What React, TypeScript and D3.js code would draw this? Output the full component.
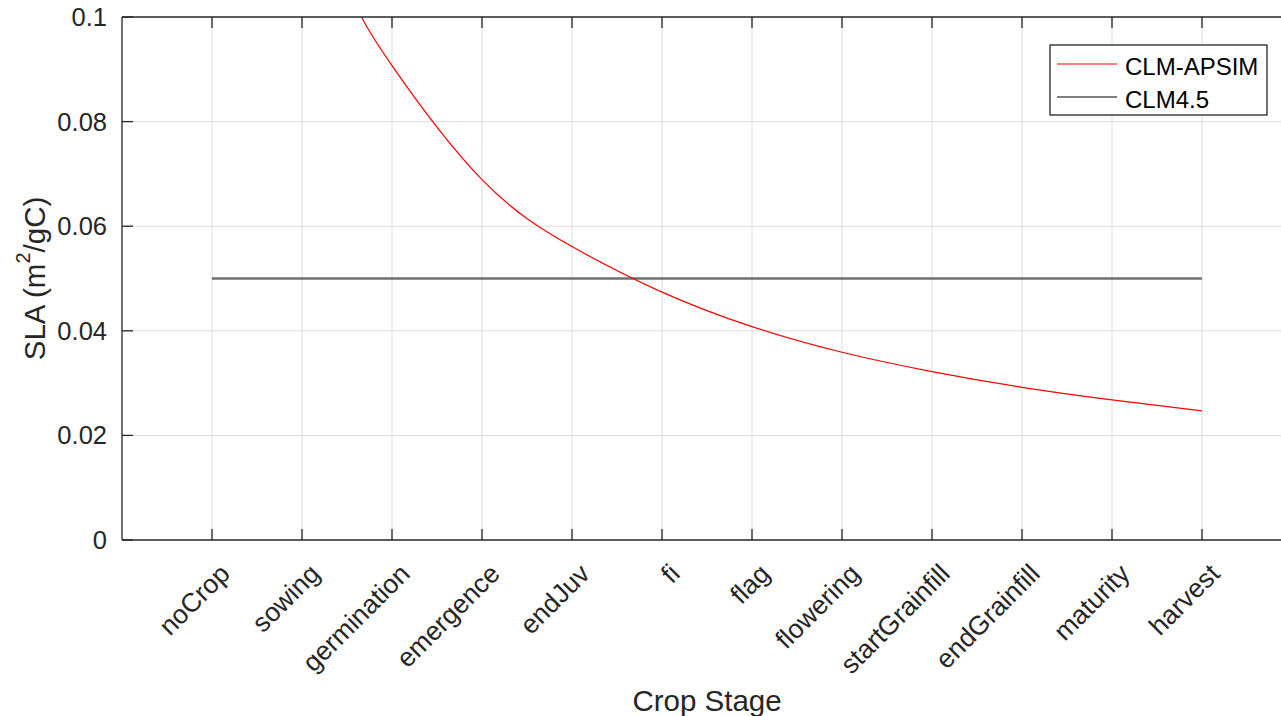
import React, { useEffect, useRef } from "react";
import * as d3 from "d3";

const stages = [
  "noCrop", "sowing", "germination", "emergence", "endJuv", "fi",
  "flag", "flowering", "startGrainfill", "endGrainfill", "maturity", "harvest",
];
// CLM-APSIM SLA (x = stage position, 0 = noCrop)
const apsimStagePos = [1, 1.5, 2, 3, 4, 5, 6, 7, 8, 9, 10, 11];
const apsimValues = [0.129, 0.106, 0.0907, 0.0689, 0.0561, 0.0474, 0.0408, 0.0359, 0.0322, 0.0292, 0.0268, 0.0247];
// CLM4.5 constant SLA
const clmStagePos = [0, 11];
const clmValues = [0.05, 0.05];
const yTicks = [0, 0.02, 0.04, 0.06, 0.08, 0.1];
const yTickLabels = ["0", "0.02", "0.04", "0.06", "0.08", "0.1"];
const legendLabels = ["CLM-APSIM", "CLM4.5"];

const W = 1281;
const H = 716;
const FONT = "'Liberation Sans', Arial, Helvetica, sans-serif";
const AX = "#262626";

export default function App() {
  const ref = useRef<SVGSVGElement | null>(null);

  useEffect(() => {
    document.body.style.margin = "0";
    const svg = d3.select(ref.current);
    svg.selectAll("*").remove();

    const left = 122, top = 17, bottom = 540;
    const x = d3.scaleLinear().domain([-1, 12]).range([left, left + 13 * 90]);
    const y = d3.scaleLinear().domain([0, 0.1]).range([bottom, top]);
    const right = x.range()[1];

    svg.append("rect").attr("width", W).attr("height", H).attr("fill", "#fff");

    svg.append("defs").append("clipPath").attr("id", "plotclip")
      .append("rect").attr("x", left).attr("y", top).attr("width", right - left).attr("height", bottom - top);

    // grid
    const g = svg.append("g");
    stages.forEach((_, i) => {
      g.append("line").attr("x1", x(i)).attr("x2", x(i)).attr("y1", top).attr("y2", bottom)
        .attr("stroke", "#dcdcdc").attr("stroke-width", 1);
    });
    yTicks.forEach((t) => {
      if (t === 0 || t === 0.1) return;
      g.append("line").attr("x1", left).attr("x2", right).attr("y1", y(t)).attr("y2", y(t))
        .attr("stroke", "#dcdcdc").attr("stroke-width", 1);
    });

    // lines
    const clmData = clmStagePos.map((s, i) => [s, clmValues[i]] as [number, number]);
    const apsimData = apsimStagePos.map((s, i) => [s, apsimValues[i]] as [number, number]);
    const lineGen = d3.line<[number, number]>().x((d) => x(d[0])).y((d) => y(d[1])).curve(d3.curveNatural);

    const plot = svg.append("g").attr("clip-path", "url(#plotclip)");
    plot.append("path").datum(clmData).attr("d", lineGen).attr("fill", "none")
      .attr("stroke", "#707070").attr("stroke-width", 2.4);
    plot.append("path").datum(apsimData).attr("d", lineGen).attr("fill", "none")
      .attr("stroke", "#ff0000").attr("stroke-width", 1.2);

    // axes box
    const axg = svg.append("g").attr("stroke", AX).attr("stroke-width", 1.3).attr("fill", "none");
    axg.append("line").attr("x1", left).attr("x2", right).attr("y1", bottom).attr("y2", bottom);
    axg.append("line").attr("x1", left).attr("x2", right).attr("y1", top).attr("y2", top);
    axg.append("line").attr("x1", left).attr("x2", left).attr("y1", top).attr("y2", bottom);
    stages.forEach((_, i) => {
      axg.append("line").attr("x1", x(i)).attr("x2", x(i)).attr("y1", bottom).attr("y2", bottom - 11);
      axg.append("line").attr("x1", x(i)).attr("x2", x(i)).attr("y1", top).attr("y2", top + 11);
    });
    yTicks.forEach((t) => {
      axg.append("line").attr("x1", left).attr("x2", left + 11).attr("y1", y(t)).attr("y2", y(t));
    });

    // y tick labels
    yTicks.forEach((t, i) => {
      svg.append("text").attr("x", left - 15).attr("y", y(t)).attr("text-anchor", "end")
        .attr("dominant-baseline", "central").attr("font-family", FONT).attr("font-size", 25.5)
        .attr("fill", AX).text(yTickLabels[i]);
    });

    // x tick labels rotated
    stages.forEach((s, i) => {
      const ax = x(i) + 13, ay = bottom + 29;
      svg.append("text").attr("transform", `translate(${ax},${ay}) rotate(-45)`)
        .attr("text-anchor", "end").attr("dominant-baseline", "central")
        .attr("font-family", FONT).attr("font-size", 26.5).attr("fill", AX).text(s);
    });

    // axis titles
    svg.append("text").attr("x", 707).attr("y", 700).attr("text-anchor", "middle")
      .attr("dominant-baseline", "central").attr("font-family", FONT).attr("font-size", 29.5)
      .attr("fill", AX).text("Crop Stage");

    const yl = svg.append("text").attr("transform", `translate(34,${(top + bottom) / 2}) rotate(-90)`)
      .attr("text-anchor", "middle").attr("dominant-baseline", "central")
      .attr("font-family", FONT).attr("font-size", 29.5).attr("fill", AX);
    yl.append("tspan").text("SLA (m");
    yl.append("tspan").attr("font-size", 20).attr("dy", -11).text("2");
    yl.append("tspan").attr("dy", 11).text("/gC)");

    // legend
    const lg = svg.append("g");
    lg.append("rect").attr("x", 1050).attr("y", 45).attr("width", 217).attr("height", 70)
      .attr("fill", "#fff").attr("stroke", AX).attr("stroke-width", 1.3);
    const legendColors = ["#ff0000", "#000000"];
    legendLabels.forEach((lab, i) => {
      const ly = 64 + i * 33;
      lg.append("line").attr("x1", 1057).attr("x2", 1117).attr("y1", ly).attr("y2", ly)
        .attr("stroke", legendColors[i]).attr("stroke-width", 1.2);
      lg.append("text").attr("x", 1125).attr("y", ly + 2).attr("dominant-baseline", "central")
        .attr("font-family", FONT).attr("font-size", 24).attr("fill", "#000").text(lab);
    });
  }, []);

  return <svg ref={ref} width={W} height={H} style={{ display: "block" }} />;
}
